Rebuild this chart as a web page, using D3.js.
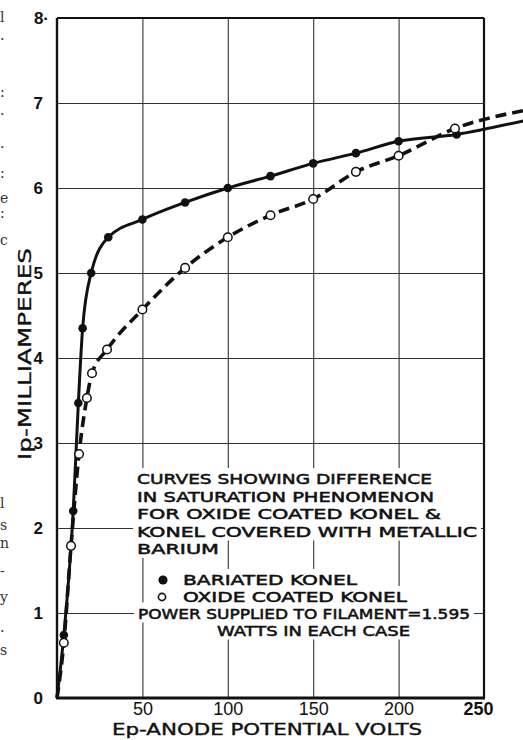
<!DOCTYPE html>
<html>
<head>
<meta charset="utf-8">
<script src="https://cdn.jsdelivr.net/npm/d3@7"></script>
<style>
  html, body { margin: 0; padding: 0; background: #fff; }
  svg { display: block; }
</style>
</head>
<body>
<svg id="chart" width="523" height="740"></svg>
<script>
// ---------------- DATA ----------------
const voltTicks = [50, 100, 150, 200, 250];
const maTicks = [0, 1, 2, 3, 4, 5, 6, 7, 8];
const xGridValues = [50, 100, 150, 200];
const yGridValues = [1, 2, 3, 4, 5, 6, 7];

// Bariated Konel (filled dots, solid curve); first/last entries are curve ends without dots
const bariatedV = [0, 4, 9.5, 12.5, 15, 20, 30, 50, 75, 100, 125, 150, 175, 200, 234, 273];
const bariatedI = [0, 0.74, 2.2, 3.47, 4.35, 5.0, 5.42, 5.63, 5.83, 6.0, 6.14, 6.29, 6.41, 6.55, 6.63, 6.79];

// Oxide coated Konel (open circles, dashed curve)
const oxideV = [0, 4, 8.2, 12.9, 17.5, 20.5, 29.3, 50, 75, 100, 125, 150, 175, 200, 233, 273];
const oxideI = [0, 0.65, 1.79, 2.87, 3.53, 3.82, 4.1, 4.57, 5.06, 5.42, 5.68, 5.87, 6.19, 6.38, 6.70, 6.91];

const noteLines = [
  "CURVES SHOWING DIFFERENCE",
  "IN SATURATION PHENOMENON",
  "FOR OXIDE COATED KONEL &",
  "KONEL COVERED WITH METALLIC",
  "BARIUM"
];
const legendLabels = ["BARIATED KONEL", "OXIDE COATED KONEL"];
const powerLines = ["POWER SUPPLIED TO FILAMENT=1.595", "WATTS IN EACH CASE"];
const xTitle = "Ep-ANODE POTENTIAL VOLTS";
const yTitle = "Ip-MILLIAMPERES";
const marginChars = ["l", ".", ":", ".", ".", ":", "e", ":", "c", "l", "s", "n", "-", "y", ".", "s"];

// ---------------- LAYOUT ----------------
const svg = d3.select("#chart");
svg.append("rect").attr("width", 523).attr("height", 740).attr("fill", "#fff");

const L = 57, R = 484, T = 18, B = 698;
const x = d3.scaleLinear().domain([0, 250]).range([L, R]);
const y = d3.scaleLinear().domain([0, 8]).range([B, T]);

const ink = "#111";

// grid via axes
const gx = svg.append("g").attr("transform", `translate(0,${B})`)
  .call(d3.axisBottom(x).tickValues(xGridValues).tickSize(-(B - T)).tickFormat(""));
gx.select(".domain").remove();
gx.selectAll("line").attr("stroke", "#333").attr("stroke-width", 1.1);

const gy = svg.append("g").attr("transform", `translate(${L},0)`)
  .call(d3.axisLeft(y).tickValues(yGridValues).tickSize(-(R - L)).tickFormat(""));
gy.select(".domain").remove();
gy.selectAll("line").attr("stroke", "#333").attr("stroke-width", 1.1);

// note text with white masks (breaking grid lines)
const noteG = svg.append("g");
function maskedText(str, tx, ty, len, size) {
  const t = noteG.append("text")
    .attr("x", tx).attr("y", ty)
    .attr("font-family", "'DejaVu Sans', sans-serif")
    .attr("font-size", size)
    .attr("fill", ink)
    .attr("stroke", ink).attr("stroke-width", 0.55)
    .attr("textLength", len)
    .attr("lengthAdjust", "spacingAndGlyphs")
    .text(str);
  const bb = t.node().getBBox();
  noteG.insert("rect", "text")
    .attr("x", bb.x - 4).attr("y", ty - 16)
    .attr("width", bb.width + 8).attr("height", 20)
    .attr("fill", "#fff");
}
const fs = 14.8;
const noteWidths = [295, 297, 304, 340, 82];
noteLines.forEach((s, i) => maskedText(s, 137, 484 + i * 17.5, noteWidths[i], fs));
maskedText(legendLabels[0], 183, 585, 174, fs);
maskedText(legendLabels[1], 183, 602, 224, fs);
maskedText(powerLines[0], 138, 618.5, 332, fs);
maskedText(powerLines[1], 217, 635.5, 193, fs);
// legend symbols
noteG.append("circle").attr("cx", 163).attr("cy", 580).attr("r", 4.6).attr("fill", ink);
noteG.append("circle").attr("cx", 162).attr("cy", 597).attr("r", 3.6)
  .attr("fill", "#fff").attr("stroke", ink).attr("stroke-width", 1.6);

// border
svg.append("line").attr("x1", L).attr("x2", R).attr("y1", T).attr("y2", T).attr("stroke", ink).attr("stroke-width", 1.8);
svg.append("line").attr("x1", L).attr("x2", L).attr("y1", T).attr("y2", B).attr("stroke", ink).attr("stroke-width", 2.4);
svg.append("line").attr("x1", R).attr("x2", R).attr("y1", T).attr("y2", B).attr("stroke", ink).attr("stroke-width", 2.2);
svg.append("line").attr("x1", L - 1).attr("x2", R + 1).attr("y1", B).attr("y2", B).attr("stroke", ink).attr("stroke-width", 3);

// axis labels via axes
const ay = svg.append("g").attr("transform", `translate(${L - 11},0)`)
  .call(d3.axisLeft(y).tickValues(maTicks).tickSize(0).tickFormat(d => d === 8 ? "8·" : d));
ay.select(".domain").remove();
ay.selectAll("text")
  .attr("font-family", "'Liberation Sans', Arial, sans-serif")
  .attr("font-weight", "bold")
  .attr("font-size", 17)
  .attr("fill", ink)
  .attr("dx", d => d === 8 ? 6 : 0);

const ax = svg.append("g").attr("transform", `translate(0,${B})`)
  .call(d3.axisBottom(x).tickValues(voltTicks).tickSize(0).tickFormat(d => d));
ax.select(".domain").remove();
ax.selectAll("text")
  .attr("font-family", "'Liberation Sans', Arial, sans-serif")
  .attr("font-size", 18)
  .attr("font-weight", d => d === 250 ? "bold" : "normal")
  .attr("fill", ink)
  .attr("y", 17)
  .attr("dy", null)
  .attr("dx", d => d === 250 ? -6 : 0);

svg.append("text")
  .attr("x", 112).attr("y", 735)
  .attr("font-family", "'DejaVu Sans', sans-serif")
  .attr("font-size", 16)
  .attr("fill", ink)
  .attr("stroke", ink).attr("stroke-width", 0.4)
  .attr("textLength", 310).attr("lengthAdjust", "spacingAndGlyphs")
  .text(xTitle);

svg.append("text")
  .attr("transform", "translate(31,460) rotate(-90)")
  .attr("font-family", "'DejaVu Sans', sans-serif")
  .attr("font-size", 17)
  .attr("fill", ink)
  .attr("stroke", ink).attr("stroke-width", 0.35)
  .attr("textLength", 212).attr("lengthAdjust", "spacingAndGlyphs")
  .text(yTitle);

// margin fragments from the neighbouring page
const marginY = [22, 40, 97, 115, 148, 178, 203, 218, 245, 508, 530, 548, 576, 602, 632, 655];
svg.append("g").selectAll("text").data(marginChars).join("text")
  .attr("x", 0).attr("y", (d, i) => marginY[i])
  .attr("font-family", "'DejaVu Serif', serif")
  .attr("font-size", 14)
  .attr("fill", "#333")
  .text(d => d);

// curves
const line = d3.line().x(d => x(d[0])).y(d => y(d[1])).curve(d3.curveMonotoneX);
const bar = bariatedV.map((v, i) => [v, bariatedI[i]]);
const oxi = oxideV.map((v, i) => [v, oxideI[i]]);

svg.append("path").datum(oxi).attr("d", line)
  .attr("fill", "none").attr("stroke", ink).attr("stroke-width", 3.6)
  .attr("stroke-dasharray", "11,6");
svg.append("path").datum(bar).attr("d", line)
  .attr("fill", "none").attr("stroke", ink).attr("stroke-width", 3);

svg.append("g").selectAll("circle").data(bar.slice(1, -1)).join("circle")
  .attr("cx", d => x(d[0])).attr("cy", d => y(d[1])).attr("r", 4.3).attr("fill", ink);
svg.append("g").selectAll("circle").data(oxi.slice(1, -1)).join("circle")
  .attr("cx", d => x(d[0])).attr("cy", d => y(d[1])).attr("r", 4.3)
  .attr("fill", "#fff").attr("stroke", ink).attr("stroke-width", 1.5);
</script>
</body>
</html>
